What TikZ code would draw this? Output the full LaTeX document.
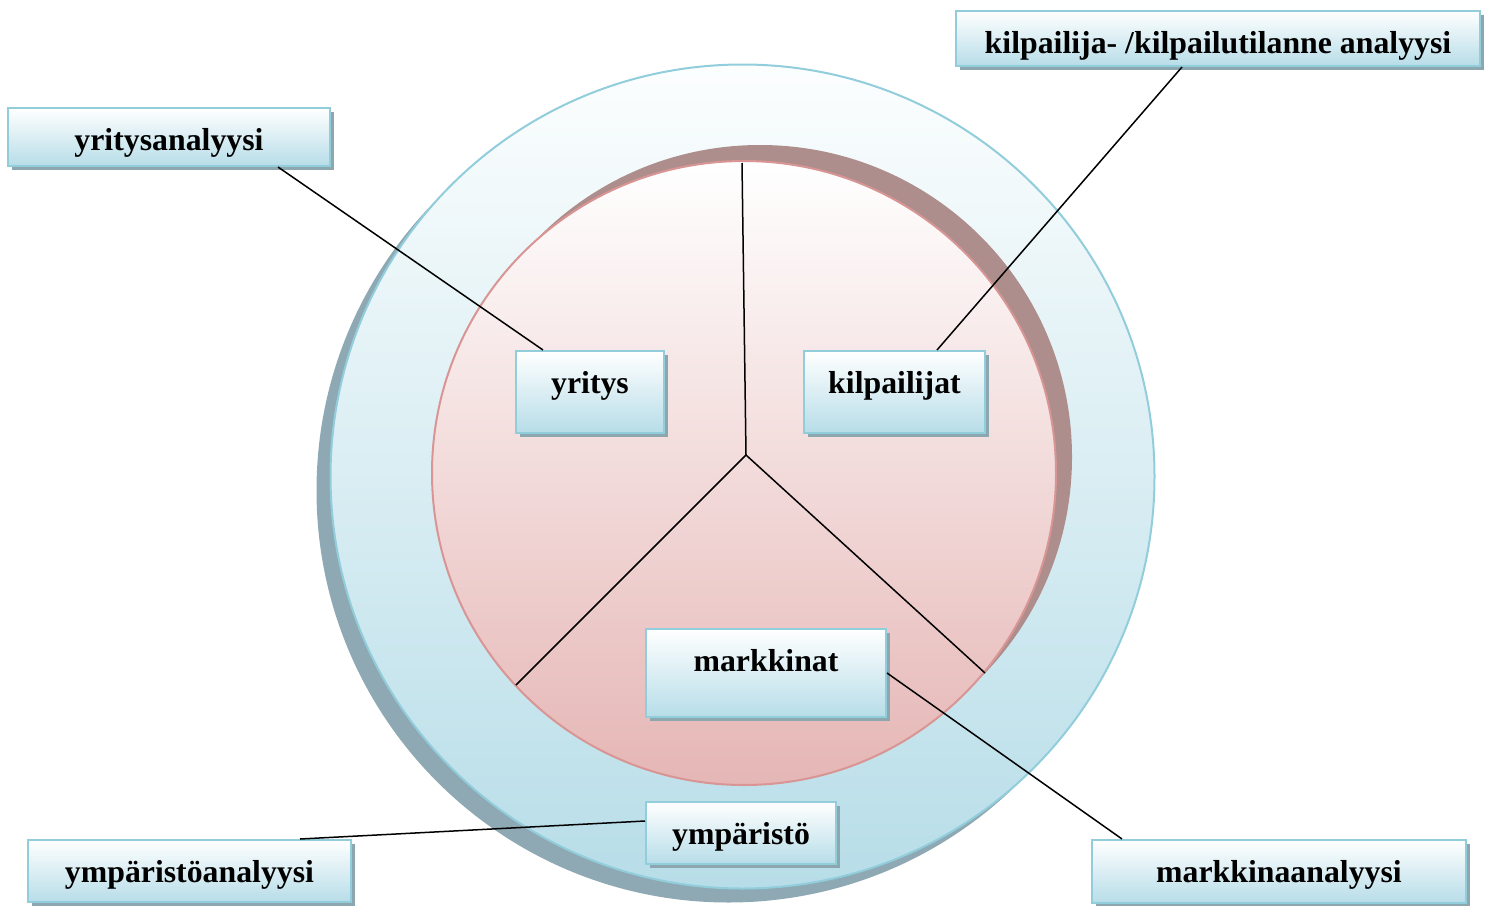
\documentclass[tikz,border=0pt]{standalone}
\usepackage{fontspec}
\setmainfont{Liberation Serif}
\usetikzlibrary{calc,shadows}
\definecolor{ringline}{HTML}{92CDDC}
\definecolor{ringtop}{HTML}{FCFEFE}
\definecolor{ringbot}{HTML}{B7DDE8}
\definecolor{ringshade}{HTML}{8EA9B3}
\definecolor{coreline}{HTML}{D99594}
\definecolor{coretop}{HTML}{FFFFFF}
\definecolor{corebot}{HTML}{E5B6B5}
\definecolor{coreshade}{HTML}{AD8E8D}
\definecolor{boxshade}{HTML}{8CA7B0}
\tikzset{
  labelbox/.style={draw=ringline, line width=1pt, top color=white, bottom color=ringbot,
    rectangle, anchor=north, inner sep=0pt, text height=21pt, text depth=#1,
    font=\fontsize{15.9}{18}\selectfont\bfseries,
    drop shadow={shadow xshift=2pt, shadow yshift=-2pt, fill=boxshade, opacity=1}},
  link/.style={line width=0.75pt, black},
}
\begin{document}
\begin{tikzpicture}[x=0.5pt,y=-0.5pt]
\useasboundingbox (0,0) rectangle (1488,905);
% outer ring with its shadow
\fill[ringshade] (728.5,490.5) circle[radius=206pt];
\shade[top color=ringtop, bottom color=ringbot] (742.5,476.5) circle[radius=206pt];
\draw[ringline, line width=1pt] (742.5,476.5) circle[radius=206pt];
% inner disc with its shadow
\fill[coreshade] (760,457) circle[radius=156pt];
\shade[top color=coretop, bottom color=corebot] (744,473) circle[radius=156pt];
\draw[coreline, line width=1pt] (744,473) circle[radius=156pt];
% three sectors
\coordinate (hub) at (746,455);
\coordinate (spokeN) at (742,163);
\coordinate (spokeSW) at (516,685);
\coordinate (spokeSE) at (985,673);
\draw[link] (hub) -- (spokeN);
\draw[link] (hub) -- (spokeSW);
\draw[link] (hub) -- (spokeSE);
% labels
\node[labelbox=8pt, minimum width=161pt] (ya) at (169,107) {yritysanalyysi};
\node[labelbox=6.5pt, minimum width=262pt] (ka) at (1218,10) {kilpailija- /kilpailutilanne analyysi};
\node[labelbox=20pt, minimum width=74pt] (yr) at (590,350) {yritys};
\node[labelbox=20pt, minimum width=90.5pt] (ki) at (894.5,350) {kilpailijat};
\node[labelbox=23pt, minimum width=120pt] (ma) at (766,628) {markkinat};
\node[labelbox=10pt, minimum width=95pt] (ym) at (741,801) {ympäristö};
\node[labelbox=10pt, minimum width=161.5pt] (yma) at (189.5,839) {ympäristöanalyysi};
\node[labelbox=10.5pt, minimum width=187pt] (maa) at (1279,839) {markkinaanalyysi};
% connectors
\draw[link] ([xshift=54.5pt]ya.south) -- ([xshift=-23.5pt]yr.north);
\draw[link] ([xshift=-18pt]ka.south) -- ([xshift=21.25pt]ki.north);
\draw[link] (ma.east) -- ([xshift=-78.5pt]maa.north);
\draw[link] ([yshift=6pt]ym.west) -- ([xshift=55.25pt]yma.north);
\end{tikzpicture}
\end{document}
